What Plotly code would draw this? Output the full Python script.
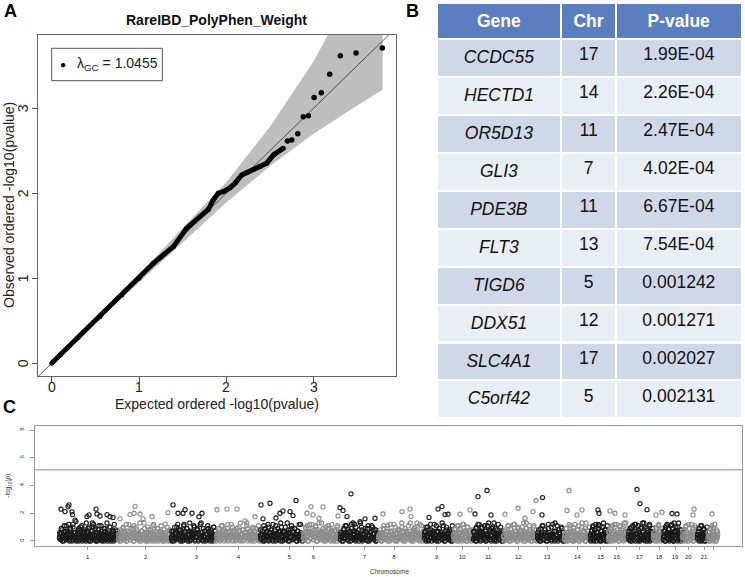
import plotly.graph_objects as go

W, H = 745, 577


def px(x):
    return x / W


def py(y):
    return 1 - y / H


FONT = "Liberation Sans, Arial, sans-serif"

# ---------------- Panel A: QQ plot data ----------------
qq_expected = [0.0, 0.1, 0.3, 0.553, 0.8, 1.0, 1.164, 1.393, 1.546, 1.699, 1.794, 1.851,
               1.908, 1.966, 2.044, 2.10, 2.176, 2.234, 2.31, 2.388, 2.463, 2.54, 2.653]
qq_observed = [0.0, 0.1, 0.3, 0.548, 0.8, 1.0, 1.176, 1.372, 1.588, 1.725, 1.81, 1.921,
               2.0, 2.019, 2.066, 2.118, 2.215, 2.242, 2.28, 2.313, 2.353, 2.45, 2.53]
qq_expected_top = [2.70, 2.749, 2.818, 2.882, 2.94, 3.005, 3.088, 3.184, 3.306, 3.486, 3.787]
qq_observed_top = [2.615, 2.627, 2.698, 2.90, 2.91, 3.125, 3.18, 3.40, 3.615, 3.647, 3.706]

band_x = [0.0, 0.5, 1.0, 1.5, 2.0, 2.5, 3.0, 3.5, 3.79]
band_upper = [0.0, 0.52, 1.04, 1.59, 2.13, 2.78, 3.55, 4.5, 5.0]
band_lower = [0.0, 0.48, 0.96, 1.42, 1.89, 2.32, 2.70, 3.03, 3.215]

qq_ticks = [0, 1, 2, 3]
qq_title = "RareIBD_PolyPhen_Weight"
lambda_gc = "1.0455"

# ---------------- Panel B: table data ----------------
genes = ["CCDC55", "HECTD1", "OR5D13", "GLI3", "PDE3B", "FLT3", "TIGD6", "DDX51", "SLC4A1", "C5orf42"]
chrs = [17, 14, 11, 7, 11, 13, 5, 12, 17, 5]
pvals = ["1.99E-04", "2.26E-04", "2.47E-04", "4.02E-04", "6.67E-04", "7.54E-04",
         "0.001242", "0.001271", "0.002027", "0.002131"]
table_header = ["Gene", "Chr", "P-value"]

# ---------------- Panel C: Manhattan data ----------------
chrom_labels = [str(i) for i in range(1, 22)] + [""]
chrom_tick_pos = [87.7, 145.7, 196.3, 238.3, 289.3, 313.3, 364.3, 394, 436.7, 462.3, 488.3,
                  518.3, 547, 577.3, 600.7, 616.7, 639.3, 659, 675, 688.3, 704, 713.3]
chr_start = [59, 118, 171, 216, 260, 303, 340, 378, 424, 453, 473, 503, 537, 564, 590, 608,
             628, 653, 663, 682, 697, 707.5]
chr_end = [118, 171, 216, 260, 303, 340, 378, 424, 453, 473, 503, 537, 564, 590, 608, 628,
           653, 663, 682, 697, 707.5, 718]

# -log10(p) of the dense gene band, in tenths, in chromosome order (three passes per chromosome)
chr01 = [2,5,1,8,3,0,6,4,11,2,7,1,3,9,5,0,12,4,2,6,1,3,8,0,5,10,2,4,1,7,3,0,6,2,9,1,4,0,3,13,5,2,8,1,6,0,3,11,4,2,7,1,5,0,9,3,2,6,1,4,10,0,3,7,2,5,1,8,4,2]
chr01b = [3,1,6,0,4,2,7,1,5,3,0,9,2,4,1,6,3,0,5,2,8,1,4,0,3,6,2,1,7,4,0,5,3,2,10,1,4,0,6,2,3,1,5,0,4,2,6,1,3,0,5,2,4,1,7,0,3,2,5,1]
chr01c = [6,9,4,11,7,5,12,8,4,10,6,14,5,9,7,11,4,8,13,6,10,5,7,12,9,4,8,6,11,5,9,7,13,4,10,6,8,12,5,7]
chr02 = [1,4,0,6,2,9,3,1,5,0,7,2,12,4,1,3,8,0,5,2,10,1,4,6,0,3,7,2,1,13,5,0,4,2,8,1,3,6,0,11,2,5,1,4,9,0,3,7,2,1,6,4,0,12,3,2,5,1,8,0]
chr02b = [2,0,5,3,1,7,4,0,2,6,1,3,9,0,4,2,5,1,3,0,7,2,4,1,6,0,3,8,2,1,5,0,4,2,3,1,6,0,2,4,1,3,0,5,2]
chr02c = [5,8,4,10,6,12,7,4,9,5,11,6,8,4,13,7,5,9,6,10,4,8,5,12,7,6,9,4,11,5,8,6,10,4,7]
chr03 = [3,0,7,2,5,1,10,4,2,8,0,6,3,1,12,5,2,9,0,4,7,1,3,6,2,11,0,5,3,8,1,4,2,13,6,0,3,7,1,5,2,9,4,0,6,1,3,10,2,5]
chr03b = [1,4,0,6,2,3,8,1,5,0,2,7,3,1,4,0,6,2,5,1,3,9,0,4,2,6,1,3,0,5,2,7,1,4,0,3,2]
chr03c = [7,4,10,6,12,5,8,4,11,6,9,5,13,7,4,10,6,8,5,12,4,9,7,5,11,6,8,4,10,7]
chr04 = [0,5,2,8,1,4,11,3,0,6,2,9,1,5,3,12,0,4,7,2,1,6,3,10,0,5,2,8,1,4,3,13,0,6,2,7,1,5,9,0,3,4,2,11,1]
chr04b = [3,1,5,0,2,7,4,1,3,0,6,2,4,1,8,0,3,5,2,1,4,0,6,3,2,9,1,4,0,5,2,3,1,6,0]
chr04c = [4,9,6,11,5,8,4,12,7,5,10,6,4,9,7,13,5,8,6,11,4,7,5,10,6,9,4,8]
chr05 = [4,1,7,2,0,9,5,3,12,1,6,2,8,0,4,3,11,1,5,7,2,0,10,3,6,1,4,2,13,0,5,8,3,1,6,2,9,4,0,7,3,1,12,5,2]
chr05b = [2,5,0,3,1,6,4,0,2,8,1,3,5,0,2,4,1,7,3,0,5,2,1,4,6,0,3,9,1,2,5,0,4,1,3,2,0]
chr05c = [8,5,11,4,7,10,6,4,12,8,5,9,6,13,4,7,10,5,8,6,11,4,9,5,7,12,6,4]
chr06 = [2,6,1,9,3,11,0,5,7,2,12,4,1,8,3,10,0,6,2,13,5,1,7,3,9,0,4,2,6,1,11,3,5,0,8,2,4,1,7,3,0,10,5,2,6]
chr06b = [4,1,3,0,6,2,5,1,3,8,0,4,2,6,1,3,0,5,2,4,1,7,0,3,2,5,1]
chr06c = [5,10,7,4,12,6,9,5,11,4,8,6,13,5,7,10,4,9,6,12,5,8,4,11,7]
chr07 = [1,5,3,0,8,2,6,11,1,4,0,7,3,9,2,5,1,12,0,6,3,2,8,4,1,10,0,5,2,7,3,1,9,4,0,6,2,11,3,5,1,8,0,4,2]
chr07b = [3,0,5,2,4,1,6,0,3,2,7,1,4,0,5,3,1,2,6,0,4,1,3,8,2,0,5]
chr07c = [6,4,9,11,5,8,4,12,7,5,10,6,4,13,8,5,9,6,11,4,7,10,5,8,6]
chr08 = [3,1,6,0,4,9,2,5,1,11,3,0,7,2,4,12,1,5,0,8,3,6,2,10,1,4,0,7,2,5,3,13,1,6,0,9,4,2,8,1,5,3,11,0,6]
chr08b = [2,4,0,5,1,3,7,0,2,6,1,4,3,0,5,2,8,1,3,0,4,6,2,1,5,0,3,2,7,1,4,0,2,5,1]
chr08c = [4,8,6,11,5,9,4,12,7,5,10,6,8,4,13,6,9,5,11,7,4,8,10,5,6,12,4,7]
chr09 = [2,7,0,4,10,1,5,3,8,0,6,2,12,4,1,7,3,0,9,5,2,6,1,11,3,0,4,8,2,5,1,7,0,3,6]
chr09b = [4,1,3,0,6,2,5,1,3,0,7,2,4,1,5,0,3,2,6,1,2,0]
chr09c = [6,10,4,8,12,5,7,4,11,6,9,5,13,4,7,10,6,8,5,11]
chr10 = [4,1,8,2,5,0,11,3,6,1,9,2,4,0,12,5,1,7,3,0,6,10,2,4,1,8,3,0,5,2]
chr10b = [3,1,5,0,2,4,1,6,0,3,2,5]
chr10c = [5,9,4,11,6,8,4,12,7,5,10,6,4,8]
chr11 = [1,6,3,0,9,4,2,12,5,1,7,0,3,10,6,2,4,1,8,0,5,11,3,2,7,1,4,0,9,6,2,13,1,5,3,0,8,4,2,6,1,10,3,0,5]
chr11b = [2,4,0,3,6,1,5,2,0,4,3,1,7,2,0,3,5,1,4,0]
chr11c = [7,4,10,6,12,5,9,4,11,7,5,13,8,4,10,6,9,5,12,4,7,6]
chr12 = [3,0,7,2,5,1,11,4,0,8,2,6,3,12,1,5,0,9,4,2,7,1,10,3,0,6,2,13,5,1,4,8,0,3,6,2,11,1,5,0]
chr12b = [3,1,5,2,0,4,6,1,3,2,0,5,1,4,2,7,0,3,1,5,2,0,4,3,1]
chr12c = [4,8,6,11,5,9,4,12,7,5,10,4,8,6,13,5,9,4,11,7,6,10,5,8]
chr13 = [2,8,0,5,3,11,1,6,4,0,9,2,5,1,12,3,0,7,4,2,6,1,10,3,0]
chr13b = [4,1,3,0,5,2,1,6,0,3,2,4,1,0,5,3,2,1,4,0,6,2,1,3,0]
chr13c = [6,4,9,11,5,8,4,12,6,10,5,7,4,11,8,5,9,6]
chr14 = [1,5,9,2,0,6,3,11,4,1,7,0,12,5,2,8,3,0,6,1,10,4,2,7,0,13,3,5,1,4]
chr14b = [2,0,4,1,3,6,0,2,5,1,3,0,4,2,1,7,0,3,2,5]
chr14c = [5,9,4,12,7,5,10,6,4,8,11,5,13,6,9,4,7,10]
chr15 = [4,0,7,2,10,5,1,8,3,12,0,6,2,9,4,1,11,3,0,7,5,2,13,1,6,0,8,3,2,5]
chr15b = [1,4,0,3,6,2,0,4,2,1,5,0]
chr15c = [4,8,11,5,9,6,12,4,7,10,5,8,6,11]
chr16 = [2,6,0,9,3,1,11,5,0,7,2,4,12,1,6,3,0,10,5,2,8,1,4,0,13,6,2,3,9,1]
chr16b = [3,0,5,2,1,4,0,6,2,3,1,4]
chr16c = [7,4,10,6,12,5,8,4,11,6,9,5,13,7]
chr17 = [3,7,1,0,5,10,2,6,4,1,12,0,8,3,5,2,11,1,6,0,9,4,2,13,7,1,3,0,10,5,2,8,1,4,12,0,6,3,2,9]
chr17b = [1,4,0,3,5,2,0,6,1,3,2,4,0,5,1,3]
chr17c = [5,9,4,11,7,12,5,8,4,10,6,13,5,9,4,11,7,6]
chr18 = [2,6,0,9,4,1,11,3,7,0,5,2]
chr18b = [4,1,3,0,6,2,1,5]
chr18c = [6,4,10,5,12,7,4,9]
chr19 = [1,7,3,0,10,5,2,12,4,1,8,0,6,3,11,2,5,1,9,0,13,4,2,7,1,6,0,10,3,5,2,8,0,4,1]
chr19b = [3,0,5,2,1,4,0,6,2,3,1,5]
chr19c = [4,8,11,6,9,5,12,4,7,10,5,13,6,8]
chr20 = [3,0,8,5,1,11,2,6,0,9,4,1,12,3,7,0,5,2,10,1]
chr20b = [4,2,0,6,3,1,5,0,2,4]
chr20c = [7,4,10,5,12,6,4,9,11,5]
chr21 = [2,7,0,5,11,1,4,9,0,6,3,1]
chr21b = [4,1,3,0,5,2,0,3]
chr21c = [5,9,4,11,6,8,4,10]
chr22 = [1,6,3,0,9,4,2,11,5,0,7,1,12,3,0,8,2,5]
chr22b = [3,0,4,1,2,5,0,3]
chr22c = [6,4,10,5,9,12,4,7]

# the more extreme genes (position, -log10 p)
peak_pos = [61, 65, 68, 69, 72, 72.5, 75, 87, 89, 96, 97, 100, 107, 110, 113, 120, 130, 134, 135,
            140, 143, 152, 168, 173, 178, 183, 185, 192, 199, 202, 217, 227, 237, 245, 255, 261,
            263, 270, 276, 280, 283, 290, 293, 296, 307, 311, 313, 319, 323, 338, 340, 343, 347,
            351, 353, 360, 365, 375, 383, 402, 410, 411, 417, 429, 438, 442, 445, 448, 460, 470,
            475, 478, 487, 491, 505, 518, 525, 533, 536, 542, 542.5, 555, 567, 569, 577, 582, 598,
            599, 610, 615, 625, 637, 640, 647, 656, 662, 672, 677, 693, 694, 712]
peak_val = [2.29, 2.12, 2.48, 2.6, 2.1, 1.9, 1.5, 1.76, 1.88, 2.3, 1.95, 1.8, 1.9, 1.75, 1.7, 1.6,
            1.9, 2.0, 2.5, 1.95, 1.6, 1.75, 2.05, 2.6, 2.0, 2.0, 2.25, 2.0, 1.75, 2.0, 2.25, 2.3,
            2.3, 1.45, 1.75, 2.6, 1.6, 2.72, 1.66, 2.0, 2.17, 2.12, 1.83, 2.92, 2.0, 2.48, 1.88,
            1.64, 2.46, 1.8, 2.4, 2.2, 1.76, 3.4, 1.3, 1.4, 1.6, 1.64, 1.95, 2.12, 2.3, 1.76, 1.3,
            1.7, 2.3, 2.48, 1.9, 1.93, 1.93, 2.24, 1.95, 3.2, 3.64, 1.88, 1.93, 2.36, 1.64, 2.12,
            2.92, 1.88, 3.13, 1.3, 2.2, 3.64, 1.88, 2.24, 2.24, 2.0, 2.17, 2.0, 1.88, 3.71, 2.7,
            2.26, 1.88, 2.07, 1.98, 1.95, 1.88, 2.29, 1.95]

threshold = 5.13
chrom_colors = ["#1a1a1a", "#8c8c8c"]

fig = go.Figure()

# ----- Panel A traces -----
fig.add_trace(go.Scatter(
    x=band_x + band_x[::-1], y=band_upper + band_lower[::-1],
    fill="toself", fillcolor="#bebebe", mode="lines", line=dict(width=0),
    hoverinfo="skip", showlegend=False, xaxis="x", yaxis="y"))
diag = [-0.3, 4.2]
fig.add_trace(go.Scatter(
    x=diag, y=diag, mode="lines", line=dict(color="#333333", width=0.8),
    hoverinfo="skip", showlegend=False, xaxis="x", yaxis="y"))
fig.add_trace(go.Scatter(
    x=qq_expected, y=qq_observed, mode="lines+markers",
    line=dict(color="black", width=5), marker=dict(color="black", size=5),
    showlegend=False, xaxis="x", yaxis="y"))
fig.add_trace(go.Scatter(
    x=qq_expected_top, y=qq_observed_top, mode="markers",
    marker=dict(color="black", size=5.5),
    showlegend=False, xaxis="x", yaxis="y"))

# ----- Panel B table -----
row_fill = ["#d0d8e8" if i % 2 == 0 else "#e9edf4" for i in range(len(genes))]
fig.add_trace(go.Table(
    domain=dict(x=[px(436.7), px(742)], y=[0, py(3.3)]),
    columnwidth=[124.6, 54.7, 125.7],
    header=dict(values=["<b>%s</b>" % h for h in table_header],
                fill_color="#5b7ebf", line=dict(color="white", width=2),
                font=dict(family=FONT, size=17.5, color="white"),
                align="center", height=34),
    cells=dict(values=[["<i>%s</i>" % g for g in genes], chrs, pvals],
               fill_color=[row_fill, row_fill, row_fill],
               line=dict(color="white", width=2),
               font=dict(family=FONT, size=17.5, color="#111111"),
               align="center", height=37.9)))

# ----- Panel C traces -----
chrom_band = [(chr01, chr01b, chr01c), (chr02, chr02b, chr02c), (chr03, chr03b, chr03c),
              (chr04, chr04b, chr04c), (chr05, chr05b, chr05c), (chr06, chr06b, chr06c),
              (chr07, chr07b, chr07c), (chr08, chr08b, chr08c), (chr09, chr09b, chr09c),
              (chr10, chr10b, chr10c), (chr11, chr11b, chr11c), (chr12, chr12b, chr12c),
              (chr13, chr13b, chr13c), (chr14, chr14b, chr14c), (chr15, chr15b, chr15c),
              (chr16, chr16b, chr16c), (chr17, chr17b, chr17c), (chr18, chr18b, chr18c),
              (chr19, chr19b, chr19c), (chr20, chr20b, chr20c), (chr21, chr21b, chr21c),
              (chr22, chr22b, chr22c)]
for ci, passes in enumerate(chrom_band):
    s, e = chr_start[ci], chr_end[ci]
    xs, ys = [], []
    for vals in passes:
        n = len(vals)
        xs += [s + (e - s) * (k + 0.5) / n for k in range(n)]
        ys += [v / 10 for v in vals]
    for p, v in zip(peak_pos, peak_val):
        if s <= p < e:
            xs.append(p)
            ys.append(v)
    fig.add_trace(go.Scatter(
        x=xs, y=ys, mode="markers",
        marker=dict(symbol="circle-open", size=4.2, color=chrom_colors[ci % 2],
                    line=dict(width=1.1)),
        showlegend=False, xaxis="x2", yaxis="y2"))

axis_common = dict(showgrid=False, zeroline=False, showline=True, mirror=True, ticks="outside")

fig.update_layout(
    width=W, height=H, autosize=False,
    margin=dict(l=0, r=0, t=0, b=0),
    paper_bgcolor="white", plot_bgcolor="white",
    font=dict(family=FONT, color="#222222"),
    xaxis=dict(domain=[px(38), px(395.7)], range=[-0.157, 3.94], tickvals=qq_ticks,
               ticklen=5, tickcolor="#555", linecolor="#666", linewidth=1,
               showticklabels=False, anchor="y", **axis_common),
    yaxis=dict(domain=[py(376), py(35)], range=[-0.149, 3.86], tickvals=qq_ticks,
               ticklen=5, tickcolor="#555", linecolor="#666", linewidth=1,
               showticklabels=False, anchor="x", **axis_common),
    xaxis2=dict(domain=[px(35.3), px(742.3)], range=[35.3, 742.3], tickvals=chrom_tick_pos,
                ticktext=chrom_labels, ticklen=3, tickcolor="#999", linecolor="#999",
                linewidth=1, tickfont=dict(size=6, color="#222"), anchor="y2",
                ticklabelstandoff=2, **axis_common),
    yaxis2=dict(domain=[py(545.7), py(425.7)], range=[-0.34, 8.31], tickvals=[0, 2, 4, 6, 8],
                tickangle=-90, ticklen=4, tickcolor="#999", linecolor="#999", linewidth=1,
                tickfont=dict(size=6, color="#333"), anchor="x2",
                ticklabelstandoff=4, **axis_common),
    shapes=[
        dict(type="line", xref="x2 domain", yref="y2", x0=0, x1=1, y0=threshold, y1=threshold,
             line=dict(color="#e06060", width=1)),
        dict(type="rect", xref="paper", yref="paper", x0=px(51.7), x1=px(162.3),
             y0=py(80.7), y1=py(48.3), line=dict(color="#555", width=1), fillcolor="white"),
    ],
)

annotations = [
    dict(text="<b>A</b>", x=px(10), y=py(11), font=dict(size=18, color="black")),
    dict(text="<b>B</b>", x=px(412.5), y=py(11), font=dict(size=18, color="black")),
    dict(text="<b>C</b>", x=px(9), y=py(406.5), font=dict(size=18, color="black")),
    dict(text="<b>%s</b>" % qq_title, x=px(217), y=py(19.5), font=dict(size=14, color="#111")),
    dict(text="Expected ordered -log10(pvalue)", x=px(217), y=py(404),
         font=dict(size=14, color="#222")),
    dict(text="Observed ordered -log10(pvalue)", x=px(8.5), y=py(205.5), textangle=-90,
         font=dict(size=14, color="#222")),
    dict(text="\u25CF", x=px(63.5), y=py(65), font=dict(size=10, color="black")),
    dict(text="\u03BB<sub>GC</sub> = %s" % lambda_gc, x=px(75), y=py(64.5), xanchor="left",
         font=dict(size=14, color="#222")),
    dict(text="-log<sub>10</sub>(<i>p</i>)", x=px(8), y=py(485.7), textangle=-90,
         font=dict(size=6.5, color="#333")),
    dict(text="Chromosome", x=px(389), y=py(571.5), font=dict(size=6.5, color="#333")),
]
# QQ tick labels placed on the axes' own scales
for t in qq_ticks:
    annotations.append(dict(text=str(t), xref="x", x=t, y=py(387), font=dict(size=14, color="#222")))
    annotations.append(dict(text=str(t), yref="y", y=t, x=px(23), textangle=-90,
                            font=dict(size=14, color="#222")))
for a in annotations:
    a.setdefault("xref", "paper")
    a.setdefault("yref", "paper")
    a.setdefault("showarrow", False)
    a.setdefault("xanchor", "center")
    a.setdefault("yanchor", "middle")
fig.update_layout(annotations=annotations)

fig.write_html("out.html", config={"displayModeBar": False},
               post_script="document.body.style.margin='0';document.body.style.overflow='hidden';")
